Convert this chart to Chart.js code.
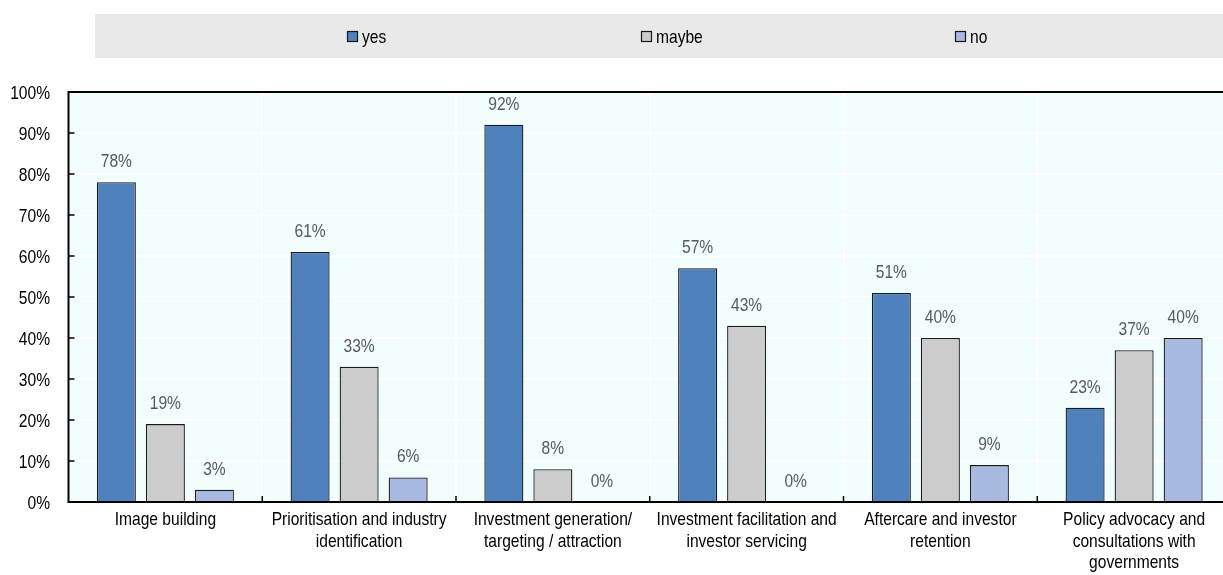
<!DOCTYPE html>
<html>
<head>
<meta charset="utf-8">
<script src="https://cdn.jsdelivr.net/npm/chart.js@4.4.1/dist/chart.umd.min.js"></script>
<style>
  html, body { margin: 0; padding: 0; background: #ffffff; overflow: hidden; }
  body { width: 1223px; height: 575px; position: relative; }
  #wrap { position: absolute; left: 0; top: 0; width: 1240px; height: 575px; }
</style>
</head>
<body>
<div id="wrap"><canvas id="chart"></canvas></div>
<script>
// Category labels (multi-line) and series values, in percent
const categories = [
  ["Image building"],
  ["Prioritisation and industry", "identification"],
  ["Investment generation/", "targeting / attraction"],
  ["Investment facilitation and", "investor servicing"],
  ["Aftercare and investor", "retention"],
  ["Policy advocacy and", "consultations with", "governments"]
];
const seriesNames = ["yes", "maybe", "no"];
const yesValues = [78, 61, 92, 57, 51, 23];
const maybeValues = [19, 33, 8, 43, 40, 37];
const noValues = [3, 6, 0, 0, 9, 40];
const yTicks = [0, 10, 20, 30, 40, 50, 60, 70, 80, 90, 100];

const FONT = '19px "Liberation Sans", Arial, sans-serif';
const NARROW = 0.82;           // horizontal squeeze giving a narrow face
const colors = ["#4f81bd", "#cccccc", "#a8b9e2"];
const legendBoxX = [347, 641, 955];

// Draws horizontally condensed text
function narrowText(ctx, text, x, y, align) {
  ctx.save();
  ctx.translate(x, y);
  ctx.scale(NARROW, 1);
  ctx.textAlign = align;
  ctx.textBaseline = 'alphabetic';
  ctx.fillText(text, 0, 0);
  ctx.restore();
}

// Legend band, plot background, frame, inward ticks and axis labels
const framePlugin = {
  id: 'frame',
  beforeDraw(chart) {
    const { ctx, chartArea: a } = chart;
    ctx.save();
    // legend band
    ctx.fillStyle = '#e9e9e9';
    ctx.fillRect(95, 14, 1145, 44);
    ctx.font = FONT;
    chart.data.datasets.forEach((ds, k) => {
      const bx = legendBoxX[k];
      ctx.fillStyle = ds.backgroundColor;
      ctx.fillRect(bx + 0.5, 31.5, 10, 10);
      ctx.strokeStyle = '#1a1a1a';
      ctx.lineWidth = 1.2;
      ctx.strokeRect(bx + 0.5, 31.5, 10, 10);
      ctx.fillStyle = '#000000';
      narrowText(ctx, ds.label, bx + 15, 43, 'left');
    });
    // plot background
    ctx.fillStyle = '#f2fdfe';
    ctx.fillRect(a.left, a.top, a.right - a.left, a.bottom - a.top);
    ctx.restore();
  },
  afterDatasetsDraw(chart) {
    const { ctx, chartArea: a, scales } = chart;
    ctx.save();
    ctx.strokeStyle = '#000000';
    ctx.lineWidth = 2;
    ctx.beginPath();
    ctx.moveTo(a.left - 1, a.top);
    ctx.lineTo(a.right, a.top);
    ctx.moveTo(a.left, a.top);
    ctx.lineTo(a.left, a.bottom);
    ctx.moveTo(a.left - 1, a.bottom);
    ctx.lineTo(a.right, a.bottom);
    ctx.stroke();
    ctx.lineWidth = 1.5;
    ctx.beginPath();
    yTicks.forEach(v => {
      const y = scales.y.getPixelForValue(v);
      ctx.moveTo(a.left, y);
      ctx.lineTo(a.left + 6, y);
    });
    const xs = scales.x;
    for (let i = 1; i < categories.length; i++) {
      const x = (xs.getPixelForValue(i - 1) + xs.getPixelForValue(i)) / 2;
      ctx.moveTo(x, a.bottom);
      ctx.lineTo(x, a.bottom - 6);
    }
    ctx.stroke();

    ctx.font = FONT;
    ctx.fillStyle = '#000000';
    // y tick labels
    yTicks.forEach(v => {
      narrowText(ctx, v + '%', 50, scales.y.getPixelForValue(v) + 7, 'right');
    });
    // category labels
    categories.forEach((lines, i) => {
      const cx = xs.getPixelForValue(i);
      lines.forEach((t, j) => narrowText(ctx, t, cx, a.bottom + 23 + j * 21.5, 'center'));
    });
    // value labels above each bar
    ctx.fillStyle = '#595959';
    chart.data.datasets.forEach((ds, di) => {
      chart.getDatasetMeta(di).data.forEach((bar, i) => {
        narrowText(ctx, ds.data[i] + '%', bar.x, bar.y - 15, 'center');
      });
    });
    ctx.restore();
  }
};

new Chart(document.getElementById('chart'), {
  type: 'bar',
  data: {
    labels: categories,
    datasets: seriesNames.map((name, k) => ({
      label: name,
      data: [yesValues, maybeValues, noValues][k],
      backgroundColor: colors[k],
      borderColor: '#1a1a1a',
      borderWidth: 1.3,
      borderSkipped: 'bottom',
      categoryPercentage: 0.759,
      barPercentage: 0.796
    }))
  },
  options: {
    responsive: true,
    maintainAspectRatio: false,
    animation: false,
    devicePixelRatio: 1,
    layout: { padding: { top: 92, right: 9, left: 0, bottom: 0 } },
    plugins: { legend: { display: false }, tooltip: { enabled: false } },
    scales: {
      x: {
        offset: true,
        grid: { color: '#ffffff', lineWidth: 2, drawTicks: false, offset: true },
        border: { display: false },
        ticks: { display: false },
        afterFit(scale) { scale.height = 73; }
      },
      y: {
        min: 0,
        max: 100,
        grid: { color: '#ffffff', lineWidth: 2, drawTicks: false },
        border: { display: false },
        ticks: { stepSize: 10, display: false },
        afterFit(scale) { scale.width = 68.5; }
      }
    }
  },
  plugins: [framePlugin]
});
</script>
</body>
</html>
